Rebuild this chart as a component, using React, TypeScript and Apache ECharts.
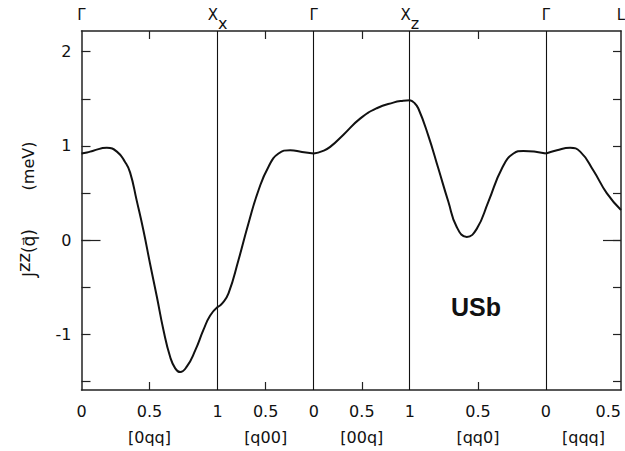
import React, { useEffect, useRef } from "react";
import * as echarts from "echarts";

// Path through the Brillouin zone: five straight segments
const segmentNames = ["[0qq]", "[q00]", "[00q]", "[qq0]", "[qqq]"];
const segQStart = [0, 1, 0, 1, 0];
const segQEnd = [1, 0, 1, 0, 0.5];
const segLength = [1.414, 1, 1, 1.414, 0.78];

// Symmetry points at the segment ends
const pointNames = ["Γ", "X", "Γ", "X", "Γ", "L"];
const pointSubs = ["", "x", "", "z", "", ""];

// J^zz(q) in meV along each segment
const q0qq = [0, 0.04, 0.087, 0.186, 0.26, 0.32, 0.357, 0.406, 0.455, 0.504, 0.554, 0.602, 0.652, 0.689, 0.725, 0.775, 0.836, 0.897, 0.946, 1];
const j0qq = [0.92, 0.93, 0.95, 0.98, 0.94, 0.83, 0.72, 0.42, 0.106, -0.25, -0.6, -0.95, -1.24, -1.36, -1.4, -1.34, -1.17, -0.95, -0.8, -0.71];

const qq00 = [1, 0.951, 0.886, 0.782, 0.678, 0.574, 0.47, 0.366, 0.244, 0.122, 0];
const jq00 = [-0.71, -0.67, -0.565, -0.21, 0.18, 0.53, 0.78, 0.92, 0.955, 0.937, 0.92];

const q00q = [0, 0.09, 0.171, 0.309, 0.482, 0.655, 0.827, 0.93, 1];
const j00q = [0.92, 0.945, 0.99, 1.12, 1.29, 1.4, 1.46, 1.48, 1.485];

const qqq0 = [1, 0.97, 0.939, 0.865, 0.791, 0.718, 0.656, 0.582, 0.509, 0.423, 0.324, 0.239, 0.166, 0.066, 0];
const jqq0 = [1.485, 1.46, 1.4, 1.11, 0.76, 0.41, 0.14, 0.035, 0.12, 0.41, 0.76, 0.92, 0.947, 0.937, 0.92];

const qqqq = [0, 0.073, 0.161, 0.228, 0.316, 0.405, 0.5];
const jqqq = [0.92, 0.954, 0.98, 0.94, 0.74, 0.5, 0.32];

const segQ = [q0qq, qq00, q00q, qqq0, qqqq];
const segJ = [j0qq, jq00, j00q, jqq0, jqqq];

// Axis ticks and labels
const qLabelValues = [0, 0.5, 1];
const yTickValues = [-1.5, -1, -0.5, 0, 0.5, 1, 1.5, 2];
const yLabelValues = [-1, 0, 1, 2];
const yZeroTick = [0];
const yMin = -1.59;
const yMax = 2.22;

const INK = "#111";
const FONT = "DejaVu Sans";

const segStart: number[] = [];
segLength.reduce((acc, len, i) => {
  segStart[i] = acc;
  return acc + len;
}, 0);
const total = segLength.reduce((a, b) => a + b, 0);
const boundaries = [...segStart, total];

const toS = (i: number, q: number) =>
  segStart[i] + (Math.abs(q - segQStart[i]) / Math.abs(segQEnd[i] - segQStart[i])) * segLength[i];

const key = (v: number) => v.toFixed(3);

// numeric q labels along the bottom, and inner ticks at q = 0.5
const qLabelMap = new Map<string, string>();
const qLabelPos: number[] = [];
const midTicks: number[] = [];
segQ.forEach((_, i) => {
  const lo = Math.min(segQStart[i], segQEnd[i]);
  const hi = Math.max(segQStart[i], segQEnd[i]);
  qLabelValues.forEach((q) => {
    if (q < lo - 1e-9 || q > hi + 1e-9) return;
    const s = toS(i, q);
    if (!qLabelMap.has(key(s))) {
      qLabelMap.set(key(s), String(q));
      qLabelPos.push(s);
    }
    if (q === 0.5 && boundaries.every((b) => Math.abs(b - s) > 1e-6)) midTicks.push(s);
  });
});

const segMid = segLength.map((len, i) => segStart[i] + len / 2);
const segNameMap = new Map(segMid.map((s, i) => [key(s), segmentNames[i]]));
const pointMap = new Map(
  boundaries.map((s, i) => [
    key(s),
    pointSubs[i] ? `{m|${pointNames[i]}}{s|${pointSubs[i]}}` : `{g|${pointNames[i]}}`,
  ])
);

export default function App() {
  const ref = useRef<HTMLDivElement>(null);

  useEffect(() => {
    if (!ref.current) return;
    const chart = echarts.init(ref.current, undefined, { renderer: "svg" });

    const axisLine = { show: true, onZero: false, lineStyle: { color: "#222", width: 1.5 } };
    const noLine = { show: false, onZero: false };
    const tickStyle = { color: "#222", width: 1.2 };

    const series: any[] = segQ.map((qs, i) => ({
      type: "line",
      xAxisIndex: 0,
      yAxisIndex: 0,
      data: qs.map((q, k) => [toS(i, q), segJ[i][k]]),
      showSymbol: false,
      smooth: 0.5,
      lineStyle: { color: INK, width: 2 },
      silent: true,
      z: 3,
    }));
    series[0].markLine = {
      silent: true,
      symbol: "none",
      label: { show: false },
      lineStyle: { color: INK, width: 1.1, type: "solid" },
      data: boundaries.slice(1, -1).map((s) => ({ xAxis: s })),
    };

    chart.setOption({
      animation: false,
      backgroundColor: "#fff",
      grid: { left: 81.5, right: 4, top: 31, bottom: 61, containLabel: false, outerBoundsMode: "none" },
      xAxis: [
        {
          type: "value",
          position: "bottom",
          min: 0,
          max: total,
          axisLine,
          splitLine: { show: false },
          axisTick: { show: true, inside: true, length: 8, customValues: midTicks, lineStyle: tickStyle },
          axisLabel: {
            customValues: qLabelPos,
            formatter: (v: number) => qLabelMap.get(key(v)) ?? "",
            margin: 13,
            alignMaxLabel: "right",
            color: INK,
            fontFamily: FONT,
            fontSize: 16,
          },
        },
        {
          type: "value",
          position: "bottom",
          offset: 26,
          min: 0,
          max: total,
          axisLine: noLine,
          splitLine: { show: false },
          axisTick: { show: false },
          axisLabel: {
            customValues: segMid,
            formatter: (v: number) => segNameMap.get(key(v)) ?? "",
            margin: 13,
            color: INK,
            fontFamily: FONT,
            fontSize: 16,
          },
        },
        {
          type: "value",
          position: "top",
          min: 0,
          max: total,
          axisLine,
          splitLine: { show: false },
          axisTick: { show: true, inside: true, length: 8, customValues: midTicks, lineStyle: tickStyle },
          axisLabel: {
            customValues: boundaries,
            formatter: (v: number) => pointMap.get(key(v)) ?? "",
            margin: 0,
            color: INK,
            fontFamily: FONT,
            fontSize: 15,
            rich: {
              g: { fontFamily: FONT, fontSize: 15, color: INK, lineHeight: 24, verticalAlign: "top" },
              m: { fontFamily: FONT, fontSize: 15, color: INK, lineHeight: 24, verticalAlign: "top" },
              s: { fontFamily: FONT, fontSize: 16, color: INK, lineHeight: 22, verticalAlign: "bottom" },
            },
          },
        },
      ],
      yAxis: [
        {
          type: "value",
          position: "left",
          min: yMin,
          max: yMax,
          axisLine,
          splitLine: { show: false },
          axisTick: { show: true, inside: true, length: 9, customValues: yTickValues, lineStyle: tickStyle },
          axisLabel: {
            customValues: yLabelValues,
            margin: 10,
            color: INK,
            fontFamily: FONT,
            fontSize: 16,
          },
        },
        {
          type: "value",
          position: "right",
          min: yMin,
          max: yMax,
          axisLine,
          splitLine: { show: false },
          axisTick: { show: true, inside: true, length: 8, customValues: yTickValues, lineStyle: tickStyle },
          axisLabel: { show: false },
        },
        {
          type: "value",
          position: "left",
          min: yMin,
          max: yMax,
          axisLine: noLine,
          splitLine: { show: false },
          axisTick: { show: true, inside: true, length: 19, customValues: yZeroTick, lineStyle: tickStyle },
          axisLabel: { show: false },
        },
        {
          type: "value",
          position: "right",
          min: yMin,
          max: yMax,
          axisLine: noLine,
          splitLine: { show: false },
          axisTick: { show: true, inside: true, length: 18, customValues: yZeroTick, lineStyle: tickStyle },
          axisLabel: { show: false },
        },
      ],
      graphic: [
        // vertical axis title, quantity part
        {
          type: "text",
          x: 26,
          y: 253,
          rotation: Math.PI / 2,
          style: {
            text: "{j|J}{sup|zz}{n|(q\u20D7)}",
            align: "center",
            verticalAlign: "middle",
            fill: INK,
            font: `17px '${FONT}'`,
            rich: {
              j: { fontFamily: FONT, fontSize: 17, fill: INK, lineHeight: 23, verticalAlign: "bottom" },
              sup: { fontFamily: FONT, fontSize: 18, fill: INK, lineHeight: 23, verticalAlign: "top" },
              n: { fontFamily: FONT, fontSize: 17, fill: INK, lineHeight: 23, verticalAlign: "bottom" },
            },
          },
        },
        // vertical axis title, unit part
        {
          type: "text",
          x: 28,
          y: 166,
          rotation: Math.PI / 2,
          style: {
            text: "(meV)",
            align: "center",
            verticalAlign: "middle",
            fill: INK,
            font: `16px '${FONT}'`,
          },
        },
        {
          type: "text",
          left: 451,
          top: 294,
          style: {
            text: "USb",
            fill: INK,
            font: "bold 25px 'Liberation Sans'",
          },
        },
      ],
      series,
    });

    return () => chart.dispose();
  }, []);

  return (
    <div
      ref={ref}
      style={{ position: "fixed", left: 0, top: 0, width: 625, height: 451, background: "#fff" }}
    />
  );
}
